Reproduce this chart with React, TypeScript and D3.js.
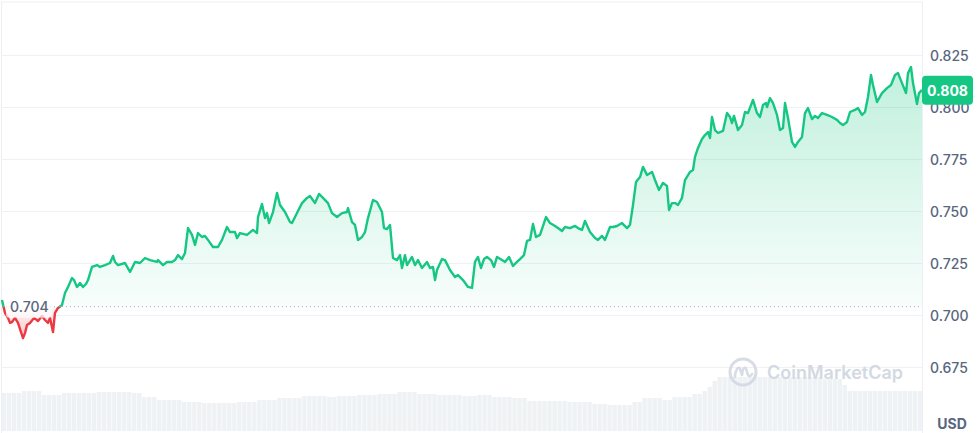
import React from 'react';
import * as d3 from 'd3';

const steps = [0,3,6,8,10,13,16,19,21,23,25,28,32,36,40,43,46,48,51,53,56,60,63,66,70,72,75,78,81,84,86,90,95,98,103,108,111,113,116,123,128,133,138,143,148,155,156,161,165,170,173,176,180,183,186,190,193,196,200,203,206,211,216,220,225,228,233,235,238,245,251,255,256,260,263,265,267,271,275,278,283,288,290,295,300,305,308,313,317,321,326,330,335,340,345,346,350,353,356,360,363,366,371,375,380,382,385,388,391,395,398,400,403,405,410,413,416,420,425,428,431,433,435,440,443,448,453,456,461,466,470,473,476,479,482,485,489,492,495,500,503,507,511,515,518,522,525,528,531,534,538,544,548,553,556,560,563,568,573,576,580,583,588,593,596,600,603,608,611,615,620,625,628,631,634,638,641,645,650,653,657,661,665,667,670,673,676,680,683,688,691,693,696,700,703,706,708,710,713,716,721,725,728,730,732,736,740,743,746,751,755,758,761,764,765,768,771,775,778,781,783,786,790,793,796,800,803,806,810,813,816,820,825,830,835,838,841,845,848,853,856,860,863,866,869,871,875,880,885,889,893,896,900,904,906,909,911,915,917,920];

const prices = [0.7072,0.7010,0.6986,0.6962,0.6966,0.6986,0.6962,0.6918,0.6889,0.6913,0.6952,0.6962,0.6986,0.6971,0.6995,0.6976,0.6962,0.6986,0.6918,0.7010,0.7034,0.7048,0.7106,0.7135,0.7178,0.7168,0.7135,0.7154,0.7135,0.7149,0.7168,0.7231,0.7240,0.7231,0.7240,0.7250,0.7284,0.7255,0.7240,0.7250,0.7207,0.7255,0.7250,0.7274,0.7264,0.7255,0.7264,0.7240,0.7255,0.7255,0.7264,0.7288,0.7269,0.7298,0.7418,0.7385,0.7337,0.7394,0.7375,0.7380,0.7361,0.7327,0.7327,0.7361,0.7423,0.7399,0.7399,0.7370,0.7394,0.7385,0.7409,0.7394,0.7471,0.7534,0.7466,0.7490,0.7442,0.7495,0.7587,0.7529,0.7495,0.7447,0.7442,0.7490,0.7538,0.7563,0.7572,0.7538,0.7582,0.7563,0.7538,0.7490,0.7471,0.7490,0.7495,0.7514,0.7447,0.7433,0.7361,0.7375,0.7399,0.7466,0.7553,0.7543,0.7495,0.7418,0.7413,0.7433,0.7274,0.7264,0.7288,0.7226,0.7288,0.7240,0.7279,0.7240,0.7264,0.7226,0.7255,0.7226,0.7231,0.7168,0.7216,0.7269,0.7264,0.7216,0.7183,0.7192,0.7168,0.7135,0.7130,0.7255,0.7279,0.7226,0.7269,0.7279,0.7264,0.7231,0.7279,0.7264,0.7255,0.7279,0.7236,0.7255,0.7269,0.7288,0.7356,0.7361,0.7438,0.7375,0.7385,0.7471,0.7442,0.7428,0.7418,0.7404,0.7423,0.7418,0.7428,0.7418,0.7409,0.7452,0.7399,0.7370,0.7361,0.7380,0.7361,0.7423,0.7423,0.7428,0.7442,0.7418,0.7433,0.7529,0.7639,0.7663,0.7712,0.7673,0.7688,0.7649,0.7601,0.7635,0.7620,0.7505,0.7538,0.7538,0.7529,0.7563,0.7649,0.7688,0.7697,0.7760,0.7803,0.7846,0.7865,0.7880,0.7851,0.7952,0.7889,0.7875,0.7885,0.7971,0.7952,0.7923,0.7957,0.7889,0.7913,0.7976,0.7971,0.8034,0.7971,0.7952,0.8010,0.8019,0.8000,0.8043,0.8019,0.7962,0.7889,0.7899,0.8019,0.7947,0.7832,0.7808,0.7832,0.7856,0.7971,0.7995,0.7942,0.7957,0.7947,0.7971,0.7962,0.7952,0.7938,0.7923,0.7913,0.7928,0.7976,0.7986,0.7995,0.7962,0.7976,0.8048,0.8154,0.8106,0.8024,0.8067,0.8091,0.8106,0.8154,0.8163,0.8115,0.8067,0.8163,0.8192,0.8115,0.8014,0.8067,0.8082];

const volumes = [38,38,38,38,40,40,40,40,36,36,36,36,38,38,38,38,38,38,38,39,39,39,39,39,39,39,38,38,34,34,34,31,31,31,31,31,29,29,29,29,28,28,28,28,28,28,28,29,29,29,29,31,31,31,31,33,33,33,33,33,35,35,35,35,35,34,34,35,35,35,35,36,36,36,36,37,37,37,37,39,39,39,39,37,37,37,37,36,36,36,36,36,35,35,35,36,36,36,34,34,34,34,33,33,33,30,30,30,30,30,30,30,30,29,29,29,29,29,27,27,27,26,26,26,26,26,29,29,33,33,33,33,31,31,34,34,34,34,37,37,40,44,50,54,54,54,54,54,54,54,54,54,54,54,54,54,54,54,54,54,54,54,54,54,52,52,52,52,46,40,40,40,40,40,40,40,40,40,40,40,40,40,40,40];

const yTicks = [0.675, 0.7, 0.725, 0.75, 0.775, 0.8, 0.825];
const baselinePrice = 0.704;
const lastPrice = 0.808;
const currency = 'USD';
const brand = 'CoinMarketCap';

const GREEN = '#16c784';
const RED = '#ea3943';
const TEXT = '#58667e';
const FONT = "Inter, 'Noto Sans', sans-serif";

export default function App() {
  const W = 980, H = 433;
  const right = 922;
  const x = d3.scaleLinear().domain([0, 920]).range([2, right]);
  const y = d3.scaleLinear().domain([0.675, 0.825]).range([367, 55]);
  const vy = d3.scaleLinear().domain([0, 60]).range([431, 371]);
  const vx = d3.scaleBand<number>().domain(volumes.map((_, i) => i)).range([2, right]).paddingInner(0.12);
  const data = steps.map((s, i) => ({ s, p: prices[i] }));
  const by = y(baselinePrice);
  const line = d3.line<{ s: number; p: number }>().x(d => x(d.s)).y(d => y(d.p));
  const area = d3.area<{ s: number; p: number }>().x(d => x(d.s)).y0(by).y1(d => y(d.p));
  const linePath = line(data) || '';
  const areaPath = area(data) || '';
  const fmt = d3.format('.3f');

  return (
    <svg width={W} height={H} style={{ position: 'absolute', left: 0, top: 0, background: '#fff' }} fontFamily={FONT}>
      <defs>
        <clipPath id="above"><rect x={0} y={0} width={right} height={by} /></clipPath>
        <clipPath id="below"><rect x={0} y={by} width={right} height={H - by} /></clipPath>
        <linearGradient id="gfill" gradientUnits="userSpaceOnUse" x1={0} y1={55} x2={0} y2={by}>
          <stop offset="0" stopColor={GREEN} stopOpacity={0.28} />
          <stop offset="1" stopColor={GREEN} stopOpacity={0.03} />
        </linearGradient>
        <linearGradient id="rfill" gradientUnits="userSpaceOnUse" x1={0} y1={by} x2={0} y2={y(0.688)}>
          <stop offset="0" stopColor={RED} stopOpacity={0.05} />
          <stop offset="1" stopColor={RED} stopOpacity={0.3} />
        </linearGradient>
      </defs>

      {/* frame */}
      <line x1={1} x2={right} y1={2} y2={2} stroke="#eceff3" />
      <line x1={1.5} x2={1.5} y1={2} y2={H} stroke="#eceff3" />
      <line x1={right + 0.5} x2={right + 0.5} y1={2} y2={H} stroke="#eceff3" />

      {/* grid */}
      {yTicks.map(t => (
        <line key={t} x1={1} x2={right} y1={Math.round(y(t)) + 0.5} y2={Math.round(y(t)) + 0.5} stroke="#eff1f4" />
      ))}

      {/* volume */}
      {volumes.map((v, i) => (
        <rect key={i} x={vx(i)} y={vy(v)} width={vx.bandwidth()} height={vy(0) - vy(v)} fill="#eff2f5" />
      ))}

      {/* watermark */}
      <g transform="translate(743,372)" opacity={0.9}>
        <circle r={13} fill="none" stroke="#d3d9e3" strokeWidth={3} />
        <path d="M-8,5 L-8,3 C-6,-6 -3,-6 -2,0 L-1,3 C0,-6 3,-6 4,0 L5,3 C6,5 8,4 9,2" fill="none" stroke="#d3d9e3" strokeWidth={2.6} strokeLinecap="round" strokeLinejoin="round" />
      </g>
      <text x={767} y={372} dominantBaseline="central" fontSize={18} fontWeight={600} fill="#d3d9e3">{brand}</text>

      {/* areas */}
      <path d={areaPath} fill="url(#gfill)" clipPath="url(#above)" />
      <path d={areaPath} fill="url(#rfill)" clipPath="url(#below)" />

      {/* baseline */}
      <line x1={x(steps[0])} x2={right} y1={by} y2={by} stroke="#a6b0c3" strokeDasharray="1 3" />

      {/* lines */}
      <path d={linePath} fill="none" stroke={GREEN} strokeWidth={2.4} strokeLinejoin="round" clipPath="url(#above)" />
      <path d={linePath} fill="none" stroke={RED} strokeWidth={2.4} strokeLinejoin="round" clipPath="url(#below)" />

      {/* baseline label */}
      <rect x={6} y={by - 11} width={46} height={22} fill="#fff" opacity={0.7} rx={3} />
      <text x={10} y={by} dominantBaseline="central" fontSize={14} fontWeight={500} fill={TEXT}>{fmt(baselinePrice)}</text>

      {/* y axis labels */}
      {yTicks.map(t => (
        <text key={t} x={930} y={y(t)} dominantBaseline="central" fontSize={14} fontWeight={500} fill={TEXT}>{fmt(t)}</text>
      ))}

      {/* current price badge */}
      <rect x={right} y={y(lastPrice) - 14.5} width={51} height={29} rx={4} fill={GREEN} />
      <text x={right + 25.5} y={y(lastPrice)} textAnchor="middle" dominantBaseline="central" fontSize={14} fontWeight={700} fill="#fff">{fmt(lastPrice)}</text>

      <text x={952} y={423} textAnchor="middle" dominantBaseline="central" fontSize={14} fontWeight={700} fill={TEXT}>{currency}</text>
    </svg>
  );
}
